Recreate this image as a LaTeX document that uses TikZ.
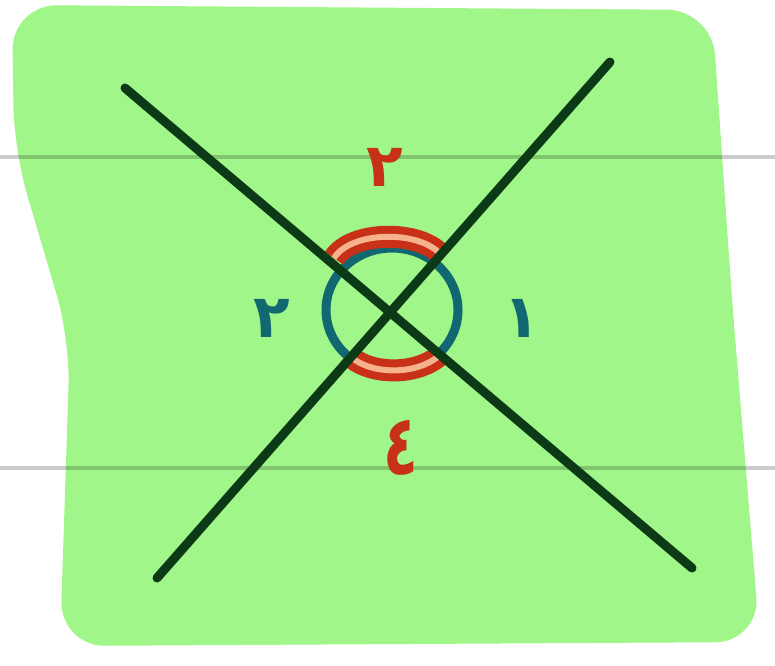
\documentclass[tikz,border=0pt]{standalone}
\usepackage{fontspec}
\newfontfamily\arabicfont[Script=Arabic]{DejaVu Sans}
\TeXXeTstate=1
\definecolor{paper}{RGB}{160, 246, 136}
\definecolor{ink}{RGB}{12, 58, 22}
\definecolor{redink}{RGB}{200, 48, 24}
\definecolor{peach}{RGB}{246, 178, 140}
\definecolor{tealink}{RGB}{18, 104, 112}
\usetikzlibrary{calc}

\begin{document}
\begin{tikzpicture}[x=1pt, y=-1pt,
    digit/.style={inner sep=0pt, font=\arabicfont\bfseries\fontsize{60}{60}\selectfont},
    redmark/.style={redink, line width=8pt, double=peach, double distance=6pt}]
    \useasboundingbox (0,0) rectangle (775,665);
    \fill[white] (0,0) rectangle (775,665);

    % Green sheet
    \fill[paper, rounded corners=45pt] (12,5) -- (712,10) -- (732,300) -- (760,642)
        -- (60,646) -- (70,340) -- (14,150) -- cycle;

    % Notebook lines
    \draw[black, opacity=0.2, line width=4.5pt] (0,157) -- (775,157);
    \draw[black, opacity=0.2, line width=4.5pt] (0,468) -- (775,468);

    % Crossing lines
    \coordinate (A1) at (125,88);
    \coordinate (A2) at (692,568);
    \coordinate (B1) at (610,62);
    \coordinate (B2) at (157,578);
    \coordinate (O) at (392,310);

    % Angle marks
    \draw[tealink, line width=9pt] (O) ellipse [x radius=66, y radius=62];
    \draw[redmark] (334,258) .. controls (352,230) and (422,230) .. (442,256);
    \draw[redmark] (348,354) .. controls (368,376) and (420,376) .. (442,353);

    \draw[ink, line width=9pt, line cap=round] (A1) -- (A2);
    \draw[ink, line width=9pt, line cap=round] (B1) -- (B2);

    % Angle numbers
    \node[digit, redink] (two) at (385,167) {\beginR ٢\endR};
    \node[digit, tealink] (three) at (272,318) {\beginR ٢\endR};
    \node[digit, tealink] (one) at (522,318) {\beginR ١\endR};
    \node[digit, redink] (four) at (401,448) {\scalebox{0.95}[1.4]{\beginR ٤\endR}};
\end{tikzpicture}
\end{document}
